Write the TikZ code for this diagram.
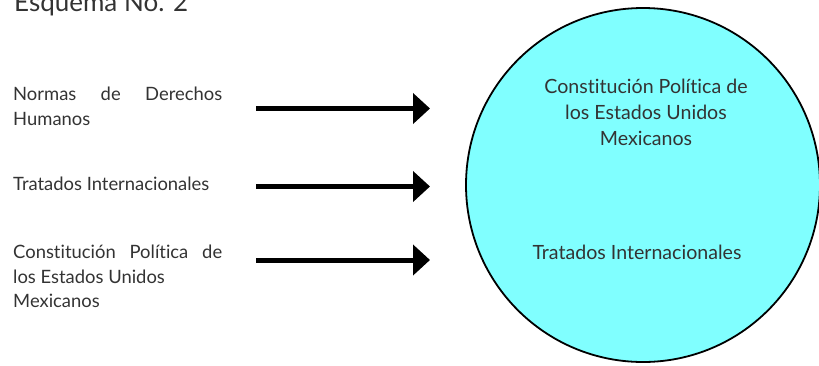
\documentclass[tikz,border=0pt]{standalone}
\usepackage{fontspec}
\setmainfont{Lato}[Ligatures=NoCommon]
\usetikzlibrary{arrows.meta}
\definecolor{txtgray}{HTML}{333333}
\definecolor{discfill}{HTML}{80FFFF}
\tikzset{
  lbl/.style={anchor=base west, inner sep=0pt, text width=209pt, align=justify, text=txtgray},
  mid/.style={anchor=base, inner sep=0pt, align=center, text=txtgray, font=\fontsize{19.6}{26}\selectfont},
  fat/.style={line width=5pt, -{Triangle[length=17pt,width=30pt]}}
}
\begin{document}
\begin{tikzpicture}[x=1pt, y=-1pt, font=\fontsize{18.4}{24.5}\selectfont, line join=round]
\useasboundingbox (0,0) rectangle (819,365);
\node[anchor=base west, inner sep=0pt, text=txtgray, font=\fontsize{26}{30}\selectfont] (title) at (14,11.5) {Esquema No. 2};
% left column
\node[lbl] (norm) at (13,100.5) {Normas de Derechos\linebreak Humanos};
\node[lbl] (trat) at (13,190) {Tratados Internacionales};
\node[lbl] (cons) at (13,258.5) {Constitución Política de\linebreak los Estados Unidos\\ Mexicanos};
% arrows
\foreach \n/\y in {a/108.5,b/186.5,c/260}{
  \coordinate (\n1) at (256,\y);
  \coordinate (\n2) at (430,\y);
  \draw[fat] (\n1) -- (\n2);
}
% circle
\node[circle, draw, line width=1.8pt, fill=discfill, minimum size=354pt, inner sep=0pt] (disc) at (643,185) {};
\node[mid] (top) at (646,145) {Constitución Política de\\ los Estados Unidos\\ Mexicanos};
\node[mid] (bot) at (637,259) {Tratados Internacionales};
\end{tikzpicture}
\end{document}
